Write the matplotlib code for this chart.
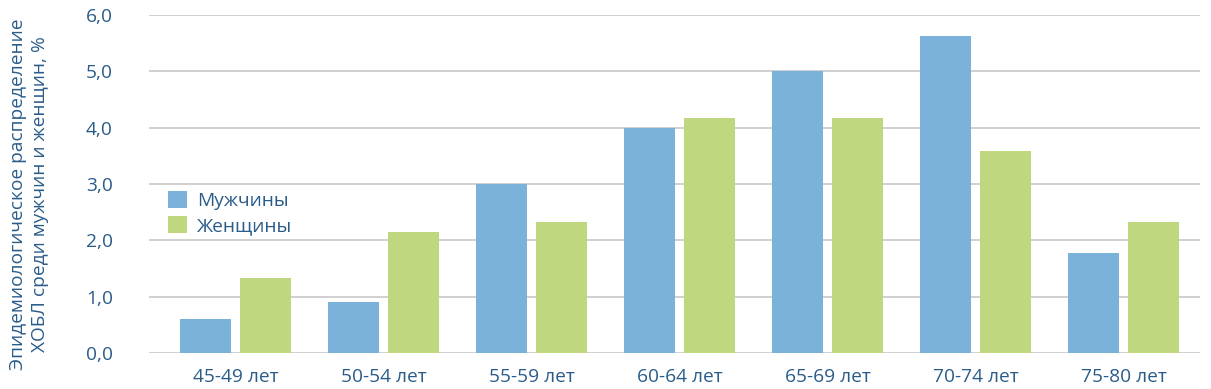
import matplotlib
matplotlib.use("Agg")
import matplotlib.pyplot as plt
import numpy as np

categories = ["45-49 лет", "50-54 лет", "55-59 лет", "60-64 лет", "65-69 лет", "70-74 лет", "75-80 лет"]
men = [0.6, 0.9, 3.0, 4.0, 5.0, 5.63, 1.77]
women = [1.33, 2.14, 2.32, 4.17, 4.17, 3.58, 2.32]
series_names = ["Мужчины", "Женщины"]
yticks = [0, 1, 2, 3, 4, 5, 6]

plt.rcParams['font.family'] = ['Open Sans', 'DejaVu Sans']
txt = "#2a5c8a"
blue = "#7ab2da"
green = "#bfd77e"
fs = 13.8

fig = plt.figure(figsize=(12.11, 3.89), dpi=100)
ax = fig.add_axes([149/1211, 1-353/389, (1200-149)/1211, (353-15)/389])

x = np.arange(len(categories))
w = 0.345
off = 0.203
ax.bar(x - off, men, w, color=blue, label=series_names[0], zorder=3)
ax.bar(x + off, women, w, color=green, label=series_names[1], zorder=3)

ax.set_ylim(0, 6)
ax.set_xlim(-0.585, 6.517)
ax.set_yticks(yticks)
ax.set_yticklabels([f"{v:.1f}".replace(".", ",") for v in yticks])
ax.set_xticks(x)
ax.set_xticklabels(categories)
ax.yaxis.grid(True, color="#d0d0d0", linewidth=1.4, zorder=0)
for s in ax.spines.values():
    s.set_visible(False)
ax.tick_params(axis='both', length=0, labelsize=fs, labelcolor=txt)
ax.tick_params(axis='y', pad=26)
ax.tick_params(axis='x', pad=11)

fig.text(29/1211, 0.501, "Эпидемиологическое распределение\nХОБЛ среди мужчин и женщин, %",
         rotation=90, ha='center', va='center', fontsize=fs, color=txt, linespacing=1.25)

leg = ax.legend(loc='upper left', bbox_to_anchor=(155/1211, 1-178/389), bbox_transform=fig.transFigure,
                frameon=False, fontsize=fs, handlelength=0.95, handleheight=0.95,
                handletextpad=0.55, labelspacing=0.3, borderpad=0.2)
for t in leg.get_texts():
    t.set_color(txt)

fig.savefig("out.png", dpi=100)
